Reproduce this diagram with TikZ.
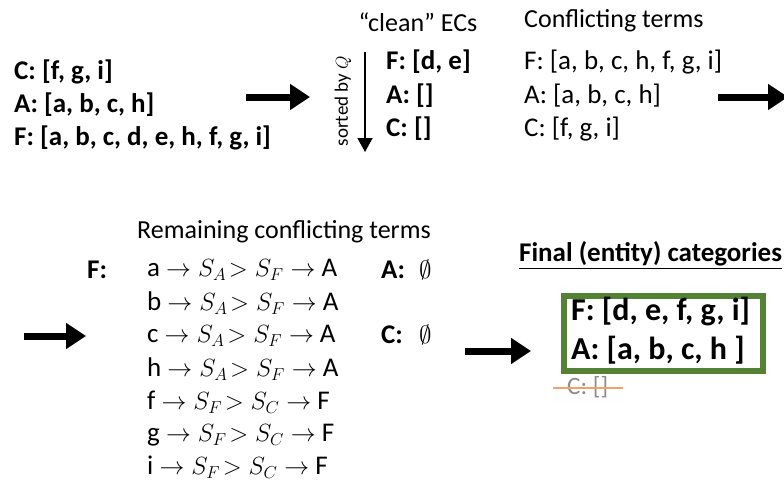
\documentclass[tikz,border=0pt]{standalone}
\usepackage{fontspec}
\setmainfont{Carlito}
\usetikzlibrary{arrows.meta}
\definecolor{boxgreen}{RGB}{84,130,53}
\definecolor{strikeor}{RGB}{244,160,110}
\definecolor{graytxt}{RGB}{140,140,140}
\tikzset{
  txt/.style={anchor=west,inner sep=0pt,font=\fontsize{27}{30}\selectfont},
  ttl/.style={anchor=west,inner sep=0pt,font=\fontsize{26}{30}\selectfont},
  btxt/.style={txt,font=\fontsize{27}{30}\selectfont\bfseries},
  boxtxt/.style={txt,font=\fontsize{32}{36}\selectfont\bfseries},
  bigarrow/.style={line width=7pt,-{Triangle[length=20pt,width=25pt]}},
}
\begin{document}
\begin{tikzpicture}[x=1pt,y=-1pt]
\useasboundingbox (0,0) rectangle (784,482);
% first column
\node[btxt] (c0) at (14,72) {C: [f, g, i]};
\node[btxt] (a0) at (14,105) {A: [a, b, c, h]};
\node[btxt] (f0) at (14,138) {F: [a, b, c, d, e, h, f, g, i]};
\coordinate (ar1s) at (246,97);
\coordinate (ar1e) at (310,97);
\draw[bigarrow] (ar1s) -- (ar1e);
% clean ECs
\node[ttl,anchor=center] (cleant) at (418,22) {“clean” ECs};
\coordinate (vs) at (365,52);
\coordinate (ve) at (365,152);
\draw[line width=1.3pt,-{Triangle[length=14pt,width=15pt]}] (vs) -- (ve);
\node[anchor=center,inner sep=0pt,rotate=90,font=\fontsize{19}{21}\selectfont] (sorted) at (343,101) {sorted by $Q$};
\node[btxt] (f1) at (386,62) {F: [d, e]};
\node[btxt] (a1) at (386,96) {A: []};
\node[btxt] (c1) at (386,129) {C: []};
% conflicting terms
\node[ttl] (conft) at (524,21) {Conflicting terms};
\node[txt] (f2) at (524,62) {F: [a, b, c, h, f, g, i]};
\node[txt] (a2) at (524,96) {A: [a, b, c, h]};
\node[txt] (c2) at (524,129) {C: [f, g, i]};
\coordinate (ar2s) at (718,97);
\coordinate (ar2e) at (788,97);
\draw[bigarrow] (ar2s) -- (ar2e);
% second row
\coordinate (ar3s) at (24,336);
\coordinate (ar3e) at (86,336);
\draw[bigarrow] (ar3s) -- (ar3e);
\node[ttl,anchor=center] (remt) at (284,232) {Remaining conflicting terms};
\node[btxt] (f3) at (87,270) {F:};
\node[txt] (r1) at (147,270) {a $\rightarrow S_A\!>S_F\rightarrow$ A};
\node[txt] (r2) at (147,303) {b $\rightarrow S_A\!>S_F\rightarrow$ A};
\node[txt] (r3) at (147,336) {c $\rightarrow S_A\!>S_F\rightarrow$ A};
\node[txt] (r4) at (147,369) {h $\rightarrow S_A\!>S_F\rightarrow$ A};
\node[txt] (r5) at (147,402) {f $\rightarrow S_F\!>S_C\rightarrow$ F};
\node[txt] (r6) at (147,435) {g $\rightarrow S_F\!>S_C\rightarrow$ F};
\node[txt] (r7) at (147,467) {i $\rightarrow S_F\!>S_C\rightarrow$ F};
\node[btxt] (a3) at (381,270) {A:};
\node[txt,font=\fontsize{30}{32}\selectfont] (a3e) at (419,270) {$\emptyset$};
\node[btxt] (c3) at (381,335) {C:};
\node[txt,font=\fontsize{30}{32}\selectfont] (c3e) at (419,335) {$\emptyset$};
% final
\node[btxt] (finalt) at (519,255) {\underline{Final (entity) categories}};
\coordinate (ar4s) at (465,351);
\coordinate (ar4e) at (531,351);
\draw[bigarrow] (ar4s) -- (ar4e);
\node[draw=boxgreen,line width=6pt,minimum width=199pt,minimum height=75pt,inner sep=0pt,anchor=north west] (box) at (561,293) {};
\node[boxtxt] (f4) at (571,312) {F: [d, e, f, g, i]};
\node[boxtxt] (a4) at (571,350) {A: [a, b, c, h ]};
\node[txt,text=graytxt,font=\fontsize{25}{28}\selectfont] (c4) at (567,387) {C: []};
\coordinate (sts) at (553,388);
\coordinate (ste) at (623,388);
\draw[strikeor,line width=1.6pt] (sts) -- (ste);
\end{tikzpicture}
\end{document}
